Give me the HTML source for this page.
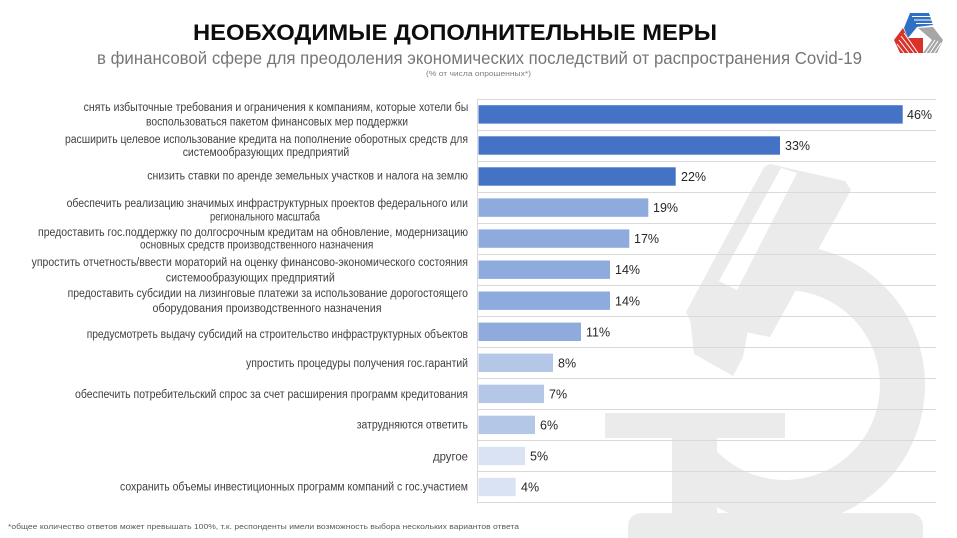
<!DOCTYPE html>
<html>
<head>
<meta charset="utf-8">
<style>
  html,body{margin:0;padding:0;background:#fff;}
  svg{display:block;}
  .lbl{font-family:"Liberation Sans","Noto Sans CJK SC",sans-serif;font-size:11.5px;fill:#404040;}
  .val{font-family:"Liberation Sans",sans-serif;font-size:12.5px;fill:#262626;}
</style>
</head>
<body>
<svg width="957" height="538" viewBox="0 0 957 538" xmlns="http://www.w3.org/2000/svg">
  <rect width="957" height="538" fill="#fff"/>

  <!-- watermark microscope -->
  <g fill="#ebebeb">
    <path d="M 760.7 247.1 A 140 140 0 1 1 677.8 475.0 L 712.2 446.1 A 95 95 0 1 0 768.5 291.4 Z"/>
    <polygon points="770,164 845,181 851,190 770,337 690,321 686,312 764,167" />
    <polygon points="690,318 748,330 743,357 733,376 694,354" />
    <rect x="605" y="413" width="180" height="25"/>
    <rect x="672" y="436" width="45" height="80"/>
    <rect x="628" y="513" width="295" height="50" rx="13" ry="13"/>
  </g>
  <polygon points="781,168 797,173 737,290 719,281" fill="#fff"/>

  <!-- title -->
  <text x="193" y="40" textLength="524" lengthAdjust="spacingAndGlyphs" style="font-family:'Liberation Sans',sans-serif;font-weight:bold;font-size:22px;fill:#0d0d0d;">НЕОБХОДИМЫЕ ДОПОЛНИТЕЛЬНЫЕ МЕРЫ</text>
  <text x="97" y="64" textLength="765" lengthAdjust="spacingAndGlyphs" style="font-family:'Liberation Sans',sans-serif;font-size:17.5px;fill:#767676;">в финансовой сфере для преодоления экономических последствий от распространения Covid-19</text>
  <text x="426" y="76" textLength="105" lengthAdjust="spacingAndGlyphs" style="font-family:'Liberation Sans',sans-serif;font-size:7.5px;fill:#7f7f7f;">(% от числа опрошенных*)</text>

  <!-- logo -->
  <g>
    <polygon points="910,13 929,13 933,25 917,27 908,38 904,28" fill="#2f6fc4"/>
    <g stroke="#fff" stroke-width="1">
      <line x1="912" y1="16.5" x2="931" y2="16.5"/>
      <line x1="914" y1="20" x2="932" y2="20"/>
      <line x1="916" y1="23.5" x2="933" y2="23.5"/>
    </g>
    <polygon points="894,40 903,28 908,38 923,38 923,53 900,53" fill="#d9322b"/>
    <g stroke="#fff" stroke-width="1">
      <line x1="897" y1="44" x2="904" y2="53"/>
      <line x1="899" y1="40" x2="909" y2="53"/>
      <line x1="901" y1="36" x2="914" y2="53"/>
      <line x1="904" y1="33" x2="918" y2="53"/>
    </g>
    <polygon points="918,28 933,27 943,40 937,53 923,53 932,40" fill="#a6a6a6"/>
    <g stroke="#fff" stroke-width="1">
      <line x1="926" y1="53" x2="935" y2="40"/>
      <line x1="930" y1="53" x2="938" y2="41"/>
      <line x1="934" y1="53" x2="941" y2="43"/>
    </g>
  </g>

  <!-- gridlines -->
  <g stroke="#d9d9d9" stroke-width="1">
    <line x1="477" y1="99.5" x2="936" y2="99.5"/>
    <line x1="477" y1="130.5" x2="936" y2="130.5"/>
    <line x1="477" y1="161.5" x2="936" y2="161.5"/>
    <line x1="477" y1="192.5" x2="936" y2="192.5"/>
    <line x1="477" y1="223.5" x2="936" y2="223.5"/>
    <line x1="477" y1="254.5" x2="936" y2="254.5"/>
    <line x1="477" y1="285.5" x2="936" y2="285.5"/>
    <line x1="477" y1="316.5" x2="936" y2="316.5"/>
    <line x1="477" y1="347.5" x2="936" y2="347.5"/>
    <line x1="477" y1="378.5" x2="936" y2="378.5"/>
    <line x1="477" y1="409.5" x2="936" y2="409.5"/>
    <line x1="477" y1="440.5" x2="936" y2="440.5"/>
    <line x1="477" y1="471.5" x2="936" y2="471.5"/>
    <line x1="477" y1="502.5" x2="936" y2="502.5"/>
    <line x1="477.5" y1="99" x2="477.5" y2="503"/>
  </g>

  <!-- bars -->
  <g>
    <rect x="478.5" y="105.2" width="424.2" height="18.4" fill="#4472c4"/>
    <rect x="478.5" y="136.3" width="301.5" height="18.4" fill="#4472c4"/>
    <rect x="478.5" y="167.3" width="197.2" height="18.4" fill="#4472c4"/>
    <rect x="478.5" y="198.4" width="169.8" height="18.4" fill="#8faadc"/>
    <rect x="478.5" y="229.4" width="150.8" height="18.4" fill="#8faadc"/>
    <rect x="478.5" y="260.5" width="131.5" height="18.4" fill="#8faadc"/>
    <rect x="478.5" y="291.5" width="131.5" height="18.4" fill="#8faadc"/>
    <rect x="478.5" y="322.6" width="102.5" height="18.4" fill="#8faadc"/>
    <rect x="478.5" y="353.6" width="74.5" height="18.4" fill="#b4c7e7"/>
    <rect x="478.5" y="384.7" width="65.5" height="18.4" fill="#b4c7e7"/>
    <rect x="478.5" y="415.7" width="56.5" height="18.4" fill="#b4c7e7"/>
    <rect x="478.5" y="446.8" width="46.5" height="18.4" fill="#dae3f3"/>
    <rect x="478.5" y="477.8" width="37.2" height="18.4" fill="#dae3f3"/>
  </g>

  <!-- values -->
  <g class="val">
    <text x="907" y="119">46%</text>
    <text x="785" y="150">33%</text>
    <text x="681" y="181.1">22%</text>
    <text x="653" y="212.1">19%</text>
    <text x="634" y="243.2">17%</text>
    <text x="615" y="274.2">14%</text>
    <text x="615" y="305.3">14%</text>
    <text x="586" y="336.3">11%</text>
    <text x="558" y="367.4">8%</text>
    <text x="549" y="398.4">7%</text>
    <text x="540" y="429.5">6%</text>
    <text x="530" y="460.5">5%</text>
    <text x="521" y="491.6">4%</text>
  </g>

  <!-- category labels -->
  <g class="lbl">
    <text x="276" y="111" text-anchor="middle" textLength="384.7" lengthAdjust="spacingAndGlyphs">снять избыточные требования и ограничения к компаниям, которые хотели бы</text>
    <text x="277" y="125.4" text-anchor="middle" textLength="262" lengthAdjust="spacingAndGlyphs">воспользоваться пакетом финансовых мер поддержки</text>

    <text x="266.5" y="143" text-anchor="middle" textLength="403" lengthAdjust="spacingAndGlyphs">расширить целевое использование кредита на пополнение оборотных средств для</text>
    <text x="266" y="156" text-anchor="middle" textLength="166.6" lengthAdjust="spacingAndGlyphs">системообразующих предприятий</text>

    <text x="468" y="179.5" text-anchor="end" textLength="320.7" lengthAdjust="spacingAndGlyphs">снизить ставки по аренде земельных участков и налога на землю</text>

    <text x="267.3" y="207" text-anchor="middle" textLength="401.3" lengthAdjust="spacingAndGlyphs">обеспечить реализацию значимых инфраструктурных проектов федерального или</text>
    <text x="265" y="220.5" text-anchor="middle" textLength="110" lengthAdjust="spacingAndGlyphs">регионального масштаба</text>

    <text x="253" y="236" text-anchor="middle" textLength="430" lengthAdjust="spacingAndGlyphs">предоставить гос.поддержку по долгосрочным кредитам на обновление, модернизацию</text>
    <text x="256.7" y="248.7" text-anchor="middle" textLength="233.3" lengthAdjust="spacingAndGlyphs">основных средств производственного назначения</text>

    <text x="249.8" y="266" text-anchor="middle" textLength="436.3" lengthAdjust="spacingAndGlyphs">упростить отчетность/ввести мораторий на оценку финансово-экономического состояния</text>
    <text x="250.3" y="281.4" text-anchor="middle" textLength="169" lengthAdjust="spacingAndGlyphs">системообразующих предприятий</text>

    <text x="267.8" y="297" text-anchor="middle" textLength="400.3" lengthAdjust="spacingAndGlyphs">предоставить субсидии на лизинговые платежи за использование дорогостоящего</text>
    <text x="267" y="312" text-anchor="middle" textLength="229" lengthAdjust="spacingAndGlyphs">оборудования  производственного назначения</text>

    <text x="468" y="338" text-anchor="end" textLength="381.3" lengthAdjust="spacingAndGlyphs">предусмотреть выдачу субсидий на строительство инфраструктурных объектов</text>
    <text x="468" y="367" text-anchor="end" textLength="222" lengthAdjust="spacingAndGlyphs">упростить процедуры получения гос.гарантий</text>
    <text x="468" y="398" text-anchor="end" textLength="393" lengthAdjust="spacingAndGlyphs">обеспечить потребительский спрос за счет расширения программ кредитования</text>
    <text x="468" y="428.7" text-anchor="end" textLength="111.3" lengthAdjust="spacingAndGlyphs">затрудняются ответить</text>
    <text x="468" y="460.4" text-anchor="end" textLength="35" lengthAdjust="spacingAndGlyphs">другое</text>
    <text x="468" y="490.4" text-anchor="end" textLength="348" lengthAdjust="spacingAndGlyphs">сохранить объемы инвестиционных программ компаний с гос.участием</text>
  </g>

  <!-- footnote -->
  <text x="8" y="529" textLength="511" lengthAdjust="spacingAndGlyphs" style="font-family:'Liberation Sans',sans-serif;font-size:7.5px;fill:#595959;">*общее количество ответов  может превышать 100%, т.к. респонденты имели возможность выбора нескольких вариантов ответа</text>
</svg>
</body>
</html>
